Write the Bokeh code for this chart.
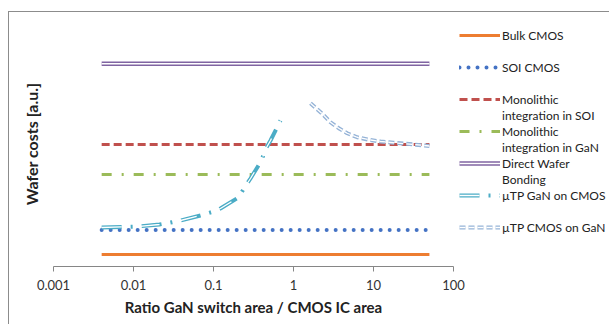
from bokeh.plotting import figure
from bokeh.models import (Range1d, FixedTicker, CustomJSTickFormatter, Legend,
                          LegendItem)
from bokeh.embed import file_html
from bokeh.resources import INLINE

# ---- data (a.u.) ----
x_flat = [0.004, 50]
bulk_cmos = [0.48, 0.48]
soi_cmos = [1.46, 1.46]
mono_soi = [4.88, 4.88]
mono_gan = [3.68, 3.68]
direct_bonding = [8.11, 8.11]

gan_on_cmos_x = [0.004, 0.0112, 0.0211, 0.0282, 0.0387, 0.0688, 0.0936, 0.122,
                 0.205, 0.244, 0.29, 0.398, 0.443, 0.516, 0.688]
gan_on_cmos_y = [1.56, 1.60, 1.68, 1.75, 1.84, 2.04, 2.17, 2.32,
                 2.76, 3.16, 3.52, 4.24, 4.67, 5.04, 5.84]

cmos_on_gan_x = [1.63, 2.29, 2.9, 3.68, 4.69, 6.25, 8.73, 12.2, 17.9, 31.9, 50]
cmos_on_gan_y = [6.53, 6.11, 5.77, 5.53, 5.33, 5.17, 5.07, 5.00, 4.95, 4.88, 4.82]

x_ticks = [0.001, 0.01, 0.1, 1, 10, 100]

# legend text lines: (first line, continuation line or None)
legend_lines = [("Bulk CMOS", None), ("SOI CMOS", None),
                ("Monolithic", "integration in SOI"),
                ("Monolithic", "integration in GaN"),
                ("Direct Wafer", "Bonding"),
                ("\u00b5TP GaN on CMOS", None), ("\u00b5TP CMOS on GaN", None)]

FONT = "Lato"

p = figure(frame_width=400, frame_height=245, x_axis_type="log",
           x_range=Range1d(0.001, 100), y_range=Range1d(0, 9.8),
           output_backend="svg", toolbar_location=None,
           min_border_left=44, min_border_right=150,
           min_border_top=9, min_border_bottom=58)
p.styles = {"margin-left": "8px", "margin-top": "11px",
            "border-left": "1px solid #8c8c8c", "border-top": "1px solid #8c8c8c"}
p.outline_line_color = None
p.xgrid.visible = False
p.ygrid.visible = False
p.background_fill_color = "white"
p.border_fill_color = "white"

# x axis
xa = p.xaxis[0]
xa.ticker = FixedTicker(ticks=x_ticks, minor_ticks=[])
xa.formatter = CustomJSTickFormatter(code="return tick.toString()")
xa.axis_line_color = "#868686"
xa.major_tick_line_color = "#868686"
xa.major_tick_out = 5
xa.major_tick_in = 0
xa.minor_tick_line_color = None
xa.major_label_text_font = FONT
xa.major_label_text_font_size = "13px"
xa.major_label_text_color = "#333333"
xa.major_label_standoff = 8
xa.axis_label = "Ratio GaN switch area / CMOS IC area"
xa.axis_label_text_font = FONT
xa.axis_label_text_font_size = "15px"
xa.axis_label_text_font_style = "bold"
xa.axis_label_text_color = "#222222"
xa.axis_label_standoff = 5

# y axis: label only
ya = p.yaxis[0]
ya.ticker = FixedTicker(ticks=[])
ya.axis_line_color = None
ya.major_tick_line_color = None
ya.minor_tick_line_color = None
ya.major_label_text_font_size = "0px"
ya.axis_label = "Wafer costs [a.u.]"
ya.axis_label_text_font = FONT
ya.axis_label_text_font_size = "16px"
ya.axis_label_text_font_style = "bold"
ya.axis_label_text_color = "#222222"
ya.axis_label_standoff = 13

# series
r_bulk = p.line(x_flat, bulk_cmos, line_color="#ED7D31", line_width=3)
r_soi = p.line(x_flat, soi_cmos, line_color="#4472C4", line_width=4,
               line_dash="0 9", line_cap="round")
r_msoi = p.line(x_flat, mono_soi, line_color="#C0504D", line_width=3,
                line_dash="8 4")
r_mgan = p.line(x_flat, mono_gan, line_color="#9BBB59", line_width=3,
                line_dash="10 10 2 10")
r_dwb1 = p.line(x_flat, direct_bonding, line_color="#8064A2", line_width=4.5)
r_dwb2 = p.line(x_flat, direct_bonding, line_color="white", line_width=1.5)
r_g1 = p.line(gan_on_cmos_x, gan_on_cmos_y, line_color="#4BACC6", line_width=4,
              line_dash="20 9 2 9")
r_g2 = p.line(gan_on_cmos_x, gan_on_cmos_y, line_color="white", line_width=1.3,
              line_dash="20 9 0 9")
r_c1 = p.line(cmos_on_gan_x, cmos_on_gan_y, line_color="#95B3D7", line_width=4,
              line_dash="6 3")
r_c2 = p.line(cmos_on_gan_x, cmos_on_gan_y, line_color="white", line_width=1.3,
              line_dash="6 3")

series_renderers = [[r_bulk], [r_soi], [r_msoi], [r_mgan], [r_dwb1, r_dwb2],
                    [r_g1, r_g2], [r_c1, r_c2]]

items = []
for (first, second), rs in zip(legend_lines, series_renderers):
    items.append(LegendItem(label=first, renderers=rs))
    items.append(LegendItem(label=second if second else " ", renderers=[]))

legend = Legend(items=items, location="top_left", margin=6, padding=5,
                spacing=0, glyph_width=41, glyph_height=16, label_height=16,
                label_standoff=2, border_line_color=None,
                background_fill_alpha=0, label_text_font=FONT,
                label_text_font_size="12px", label_text_color="#222222")
p.add_layout(legend, "right")

open("out.html", "w").write(file_html(p, INLINE))
